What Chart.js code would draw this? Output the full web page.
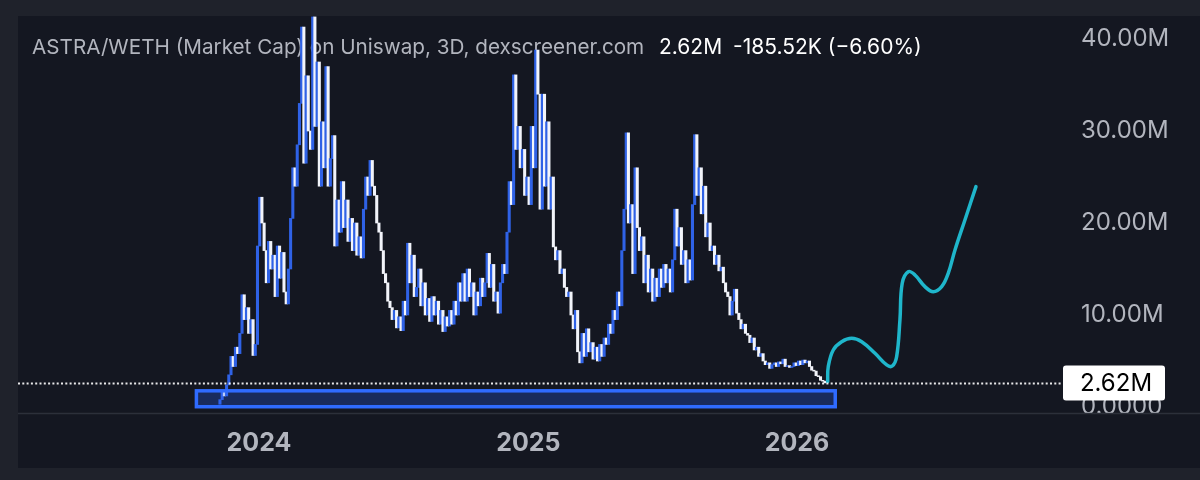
<!DOCTYPE html>
<html><head><meta charset="utf-8">
<script src="https://cdn.jsdelivr.net/npm/chart.js@4/dist/chart.umd.min.js"></script>
<style>html,body{margin:0;padding:0;background:#1f222b;overflow:hidden}canvas{display:block}</style>
</head><body><canvas id="c" width="1200" height="480"></canvas>
<script>
// ---- data (values in millions, x in days since 2024-01-01) ----
const closes = [
 0.8,1.6,1.2,2.4,3.5,5.5,4.4,6.5,5.8,8.0,
 12.2,9.5,10.8,8.0,9.5,5.6,6.8,17.5,22.8,20.0,
 17.0,13.5,18.0,15.0,16.5,12.0,17.5,14.0,16.8,12.5,
 11.2,15.0,20.5,26.0,24.0,28.5,33.0,41.3,26.5,36.0,
 30.0,28.0,42.4,30.5,37.5,24.0,31.0,26.0,37.0,24.0,
 27.0,29.5,17.5,22.5,19.0,24.5,19.5,22.5,18.0,20.5,
 17.0,20.0,16.5,18.5,16.2,21.5,25.0,23.0,26.8,24.0,
 23.0,20.0,19.0,17.0,14.5,13.5,11.5,10.8,9.5,10.5,
 8.6,9.8,8.3,11.5,10.0,17.8,13.5,16.5,12.0,13.0,
 15.0,11.0,13.5,10.0,11.8,9.3,12.0,10.0,11.5,9.0,
 10.5,8.2,9.8,8.8,10.5,9.0,11.5,10.0,13.5,11.5,
 14.5,11.5,15.0,12.0,13.5,10.0,12.5,11.0,14.0,12.0,
 13.5,16.7,13.0,15.5,11.5,12.5,10.2,13.5,15.5,14.5,
 19.0,24.5,22.0,36.1,28.0,30.5,26.0,28.0,23.0,25.0,
 22.0,30.5,26.0,38.8,34.0,21.5,34.0,24.0,31.0,21.5,
 25.0,17.4,16.0,17.0,14.5,15.0,13.0,12.0,12.5,10.0,
 8.5,10.5,6.0,4.8,8.0,5.5,8.5,6.0,7.0,5.2,
 6.5,5.0,6.8,5.5,7.5,6.8,9.0,8.0,10.5,9.5,
 12.5,11.0,17.0,21.5,29.8,20.0,22.0,14.5,26.0,19.5,
 17.0,18.5,13.5,16.5,12.5,15.0,11.5,14.0,12.0,15.0,
 13.0,15.5,13.5,15.0,12.5,16.0,21.5,17.5,19.5,15.5,
 17.0,13.5,16.0,13.8,22.0,29.6,23.0,26.0,21.0,24.0,
 18.5,20.0,17.0,17.5,15.5,16.5,14.8,15.2,13.5,12.5,
 12.0,10.0,11.5,12.8,10.2,9.5,8.5,9.0,8.0,7.8,
 7.0,7.5,6.2,6.5,5.5,5.8,5.0,4.6,4.8,4.2,
 4.6,4.8,4.4,4.9,4.7,5.2,4.4,4.5,4.3,4.4,
 4.8,4.5,5.0,4.6,5.1,4.8,5.0,4.4,4.0,3.9,3.4,3.3,2.9,2.81,2.62
];
const firstOpen = 0.3;
const firstCandleDay = -53;
const candleStepDays = 3;

const yearTickDays = [0, 366, 731];
const yearTickLabels = ['2024', '2025', '2026'];
const priceTickValues = [0, 10, 20, 30, 40];
const priceTickLabels = ['0.0000', '10.00M', '20.00M', '30.00M', '40.00M'];

const lastPrice = 2.62;
const lastPriceLabel = '2.62M';

const projectionDays = [772.7,773.5,780.3,791.7,805.3,818.9,837.0,852.9,860.5,866.4,870.9,874.0,882.2,891.3,904.9,916.2,927.6,936.5,945.7,959.2,974.2];
const projectionValues = [2.75,4.38,6.20,7.10,7.47,7.10,5.84,4.57,4.46,5.47,9.46,13.45,14.71,14.35,13.08,12.53,13.08,14.53,17.07,20.33,23.95];

const zoneDays = [-85, 783];
const zoneValues = [0.03, 1.76];

const titleMain = 'ASTRA/WETH (Market Cap) on Uniswap, 3D, dexscreener.com';
const titleLast = '2.62M';
const titleChange = '-185.52K (\u22126.60%)';

// ---- styles ----
const OUTER = '#1f222b', INNER = '#141721';
const BLUE = '#2f62e6', WHITE = '#f2f4fa', CYAN = '#1fb6cb';
const AXIS_TXT = '#b2b5be';
const FONT = 'Inter, "Noto Sans", sans-serif';

const candles = closes.map((c, i) => ({ x: firstCandleDay + candleStepDays * i, y: [i === 0 ? firstOpen : closes[i - 1], c] }));
const candleColors = candles.map(d => d.y[1] >= d.y[0] ? BLUE : WHITE);
const projection = projectionDays.map((d, i) => ({ x: d, y: projectionValues[i] }));

const decor = {
  id: 'decor',
  beforeDraw(chart) {
    const { ctx, width, height } = chart;
    ctx.save();
    ctx.fillStyle = OUTER; ctx.fillRect(0, 0, width, height);
    ctx.fillStyle = INNER; ctx.fillRect(18, 16, width - 18, 452);
    ctx.restore();
  },
  beforeDatasetsDraw(chart) {
    const { ctx } = chart;
    ctx.save();
    ctx.textBaseline = 'alphabetic';
    const y = 54;
    ctx.font = '20.7px ' + FONT;
    ctx.fillStyle = AXIS_TXT; ctx.fillText(titleMain, 32, y);
    ctx.font = '21px ' + FONT;
    ctx.fillStyle = '#ffffff';
    ctx.fillText(titleLast, 659, y);
    ctx.fillText(titleChange, 733, y);
    ctx.restore();
  },
  afterDatasetsDraw(chart) {
    const { ctx, chartArea: a, scales: { x: xs, y: ys } } = chart;
    ctx.save();
    const x0 = xs.getPixelForValue(zoneDays[0]), x1 = xs.getPixelForValue(zoneDays[1]);
    const y0 = ys.getPixelForValue(zoneValues[1]), y1 = ys.getPixelForValue(zoneValues[0]);
    ctx.fillStyle = 'rgba(41,98,255,0.27)';
    ctx.fillRect(x0, y0, x1 - x0, y1 - y0);
    ctx.strokeStyle = '#2f6bff'; ctx.lineWidth = 3.5;
    ctx.strokeRect(x0, y0, x1 - x0, y1 - y0);
    const py = Math.round(ys.getPixelForValue(lastPrice)) + 0.5;
    ctx.strokeStyle = 'rgba(255,255,255,0.9)'; ctx.lineWidth = 2;
    ctx.setLineDash([2, 2.3]);
    ctx.beginPath(); ctx.moveTo(a.left, py); ctx.lineTo(a.right, py); ctx.stroke();
    ctx.restore();
  },
  afterDraw(chart) {
    const { ctx, chartArea: a, scales: { y: ys } } = chart;
    ctx.save();
    ctx.fillStyle = INNER; ctx.fillRect(a.right, a.bottom, 1200 - a.right, 55);
    ctx.strokeStyle = '#2c303a'; ctx.lineWidth = 1.5;
    ctx.beginPath(); ctx.moveTo(18, a.bottom + 0.5); ctx.lineTo(1200, a.bottom + 0.5); ctx.stroke();
    const py = ys.getPixelForValue(lastPrice);
    ctx.fillStyle = '#ffffff';
    ctx.beginPath(); ctx.roundRect(a.right + 1, py - 17.5, 102, 35, 3); ctx.fill();
    ctx.fillStyle = '#000000'; ctx.font = '24px ' + FONT;
    ctx.textAlign = 'center'; ctx.textBaseline = 'middle';
    ctx.fillText(lastPriceLabel, a.right + 54, py + 1);
    ctx.restore();
  }
};

const zeroPad = s => { s.paddingTop = 0; s.paddingBottom = 0; s.paddingLeft = 0; s.paddingRight = 0; };

new Chart(document.getElementById('c'), {
  data: {
    datasets: [
      { type: 'bar', data: candles, backgroundColor: candleColors, borderWidth: 0, barThickness: 2.4, grouped: false, order: 2 },
      { type: 'line', data: projection, borderColor: CYAN, borderWidth: 3.5, tension: 0.4, pointRadius: 0, borderCapStyle: 'round', borderJoinStyle: 'round', fill: false, order: 1 }
    ]
  },
  options: {
    responsive: false, animation: false, devicePixelRatio: 1,
    layout: { padding: { left: 18, top: 16, right: 0, bottom: 12 } },
    plugins: { legend: { display: false }, tooltip: { enabled: false } },
    scales: {
      x: {
        type: 'linear', min: -327.4, max: 1091.1, offset: false,
        grid: { display: false, drawTicks: false }, border: { display: false },
        afterBuildTicks: s => { s.ticks = yearTickDays.map(v => ({ value: v })); },
        afterFit: s => { s.height = 55; zeroPad(s); },
        ticks: { autoSkip: false, maxRotation: 0, padding: 15, color: AXIS_TXT, font: { family: FONT, size: 25, weight: 'bold' },
          callback: (v, i) => yearTickLabels[i] }
      },
      y: {
        type: 'linear', position: 'right', min: -0.652, max: 42.5,
        grid: { display: false, drawTicks: false }, border: { display: false },
        afterBuildTicks: s => { s.ticks = priceTickValues.map(v => ({ value: v })); },
        afterFit: s => { s.width = 138; zeroPad(s); },
        ticks: { autoSkip: false, crossAlign: 'near', padding: 19, color: AXIS_TXT, font: { family: FONT, size: 24 },
          callback: (v, i) => priceTickLabels[i] }
      }
    }
  },
  plugins: [decor]
});
</script></body></html>
